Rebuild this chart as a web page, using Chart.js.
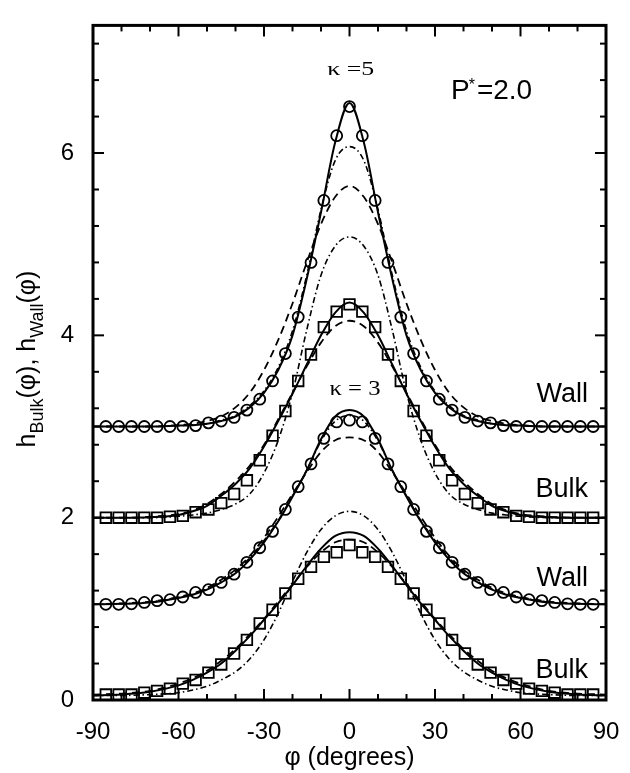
<!DOCTYPE html>
<html><head><meta charset="utf-8">
<script src="https://cdn.jsdelivr.net/npm/chart.js@4"></script>
<style>html,body{margin:0;padding:0;background:#fff}</style>
</head><body>
<canvas id="c" width="630" height="773"></canvas>
<script>
// ---- tick values ----
const xTickLabels = [-90, -60, -30, 0, 30, 60, 90];
const yTickLabels = [0, 2, 4, 6];
const xMinorTicks = [-80, -70, -50, -40, -20, -10, 10, 20, 40, 50, 70, 80];
const yMinorTicks = [0.4, 0.8, 1.2, 1.6, 2.4, 2.8, 3.2, 3.6, 4.4, 4.8, 5.2, 5.6, 6.4, 6.8, 7.2];

// ---- simulation points (symbols) ----
const phiData = [-85.5,-81,-76.5,-72,-67.5,-63,-58.5,-54,-49.5,-45,-40.5,-36,-31.5,-27,-22.5,-18,-13.5,-9,-4.5,0,4.5,9,13.5,18,22.5,27,31.5,36,40.5,45,49.5,54,58.5,63,67.5,72,76.5,81,85.5];
const wallK5Data = [3.00,3.00,3.00,3.00,3.00,3.00,3.00,3.01,3.04,3.06,3.10,3.18,3.30,3.50,3.80,4.20,4.80,5.48,6.19,6.51,6.19,5.48,4.80,4.20,3.80,3.50,3.30,3.18,3.10,3.06,3.04,3.01,3.00,3.00,3.00,3.00,3.00,3.00,3.00];
const bulkK5Data = [2.00,2.00,2.00,2.00,2.00,2.01,2.02,2.06,2.09,2.16,2.26,2.41,2.63,2.90,3.17,3.50,3.79,4.09,4.26,4.34,4.26,4.09,3.79,3.50,3.17,2.90,2.63,2.41,2.26,2.16,2.09,2.06,2.02,2.01,2.00,2.00,2.00,2.00,2.00];
const wallK3Data = [1.05,1.05,1.055,1.07,1.09,1.10,1.13,1.18,1.21,1.29,1.38,1.51,1.67,1.85,2.09,2.34,2.59,2.87,3.05,3.07,3.05,2.87,2.59,2.34,2.09,1.85,1.67,1.51,1.38,1.29,1.21,1.18,1.13,1.10,1.09,1.07,1.055,1.05,1.05];
const bulkK3Data = [0.06,0.06,0.06,0.08,0.10,0.125,0.18,0.22,0.30,0.39,0.51,0.66,0.84,0.99,1.17,1.33,1.46,1.57,1.62,1.70,1.62,1.57,1.46,1.33,1.17,0.99,0.84,0.66,0.51,0.39,0.30,0.22,0.18,0.125,0.10,0.08,0.06,0.06,0.06];

// ---- theory curves ----
const phiCurve = [-90,-80,-70,-60,-55,-50,-45,-40,-35,-30,-25,-20,-15,-10,-5,0,5,10,15,20,25,30,35,40,45,50,55,60,70,80,90];
const wallK5Solid   = [3.00,3.00,3.00,3.01,3.015,3.03,3.06,3.11,3.21,3.37,3.62,4.00,4.62,5.35,6.12,6.55,6.12,5.35,4.62,4.00,3.62,3.37,3.21,3.11,3.06,3.03,3.015,3.01,3.00,3.00,3.00];
const wallK5DashDot = [3.00,3.00,3.00,3.01,3.02,3.03,3.07,3.12,3.23,3.39,3.65,4.05,4.66,5.38,5.92,6.07,5.92,5.38,4.66,4.05,3.65,3.39,3.23,3.12,3.07,3.03,3.02,3.01,3.00,3.00,3.00];
const wallK5Dashed  = [3.00,3.00,3.00,3.015,3.03,3.06,3.11,3.21,3.37,3.62,3.95,4.35,4.80,5.22,5.52,5.64,5.52,5.22,4.80,4.35,3.95,3.62,3.37,3.21,3.11,3.06,3.03,3.015,3.00,3.00,3.00];
const bulkK5Solid   = [2.00,2.00,2.005,2.03,2.07,2.13,2.24,2.37,2.54,2.78,3.06,3.36,3.68,4.00,4.25,4.36,4.25,4.00,3.68,3.36,3.06,2.78,2.54,2.37,2.24,2.13,2.07,2.03,2.005,2.00,2.00];
const bulkK5DashDot = [2.00,2.00,2.00,2.015,2.03,2.05,2.09,2.15,2.26,2.49,2.85,3.37,4.06,4.66,4.98,5.08,4.98,4.66,4.06,3.37,2.85,2.49,2.26,2.15,2.09,2.05,2.03,2.015,2.00,2.00,2.00];
const bulkK5Dashed  = [2.00,2.00,2.01,2.04,2.08,2.15,2.26,2.40,2.57,2.80,3.08,3.37,3.66,3.92,4.10,4.16,4.10,3.92,3.66,3.37,3.08,2.80,2.57,2.40,2.26,2.15,2.08,2.04,2.01,2.00,2.00];
const wallK3Solid   = [1.05,1.055,1.07,1.12,1.155,1.21,1.29,1.39,1.54,1.73,1.96,2.23,2.52,2.86,3.11,3.18,3.11,2.86,2.52,2.23,1.96,1.73,1.54,1.39,1.29,1.21,1.155,1.12,1.07,1.055,1.05];
const wallK3Dashed  = [1.05,1.06,1.08,1.13,1.17,1.23,1.32,1.43,1.58,1.78,2.01,2.26,2.50,2.72,2.85,2.88,2.85,2.72,2.50,2.26,2.01,1.78,1.58,1.43,1.32,1.23,1.17,1.13,1.08,1.06,1.05];
const wallK3DashDot = [1.05,1.055,1.075,1.125,1.16,1.22,1.30,1.41,1.56,1.75,1.97,2.24,2.52,2.84,3.06,3.12,3.06,2.84,2.52,2.24,1.97,1.75,1.56,1.41,1.30,1.22,1.16,1.125,1.075,1.055,1.05];
const bulkK3Solid   = [0.05,0.06,0.09,0.16,0.22,0.30,0.40,0.54,0.70,0.88,1.06,1.26,1.47,1.66,1.80,1.84,1.80,1.66,1.47,1.26,1.06,0.88,0.70,0.54,0.40,0.30,0.22,0.16,0.09,0.06,0.05];
const bulkK3DashDot = [0.05,0.05,0.06,0.08,0.11,0.15,0.22,0.31,0.45,0.66,0.95,1.30,1.62,1.87,2.02,2.07,2.02,1.87,1.62,1.30,0.95,0.66,0.45,0.31,0.22,0.15,0.11,0.08,0.06,0.05,0.05];
const bulkK3Dashed  = [0.06,0.07,0.10,0.18,0.24,0.32,0.43,0.56,0.72,0.89,1.08,1.27,1.46,1.62,1.73,1.76,1.73,1.62,1.46,1.27,1.08,0.89,0.72,0.56,0.43,0.32,0.24,0.18,0.10,0.07,0.06];

// ---- build datasets ----
const SANS = '"Liberation Sans", Arial, Helvetica, sans-serif';
const SERIF = '"Liberation Serif", "Times New Roman", serif';
const DASH = [8, 5];
const DASHDOT = [6, 3, 1.5, 3];
const pts = (xs, ys) => xs.map((x, i) => ({ x: x, y: ys[i] }));
function lineDs(ys, dash, w) {
  return { data: pts(phiCurve, ys), showLine: true, borderColor: '#000', borderWidth: w,
    borderDash: dash, pointRadius: 0, pointHoverRadius: 0, cubicInterpolationMode: 'monotone', fill: false };
}
function markDs(ys, style, r) {
  return { data: pts(phiData, ys), showLine: false, pointStyle: style, pointRadius: r, pointHoverRadius: r,
    borderColor: '#000', backgroundColor: 'rgba(0,0,0,0)', pointBorderColor: '#000',
    pointBackgroundColor: 'rgba(0,0,0,0)', pointBorderWidth: 1.8 };
}
const datasets = [
  lineDs(wallK5Solid, [], 2), lineDs(wallK5DashDot, DASHDOT, 1.6), lineDs(wallK5Dashed, DASH, 1.8),
  lineDs(bulkK5Solid, [], 2), lineDs(bulkK5DashDot, DASHDOT, 1.6), lineDs(bulkK5Dashed, DASH, 1.8),
  lineDs(wallK3Solid, [], 2), lineDs(wallK3DashDot, DASHDOT, 1.6), lineDs(wallK3Dashed, DASH, 1.8),
  lineDs(bulkK3Solid, [], 2), lineDs(bulkK3DashDot, DASHDOT, 1.6), lineDs(bulkK3Dashed, DASH, 1.8),
  markDs(wallK5Data, 'circle', 5.5), markDs(bulkK5Data, 'rect', 7.5),
  markDs(wallK3Data, 'circle', 5.5), markDs(bulkK3Data, 'rect', 7.5)
];

function stretchText(ctx, text, cx, base, font, targetW) {
  ctx.font = font;
  const w = ctx.measureText(text).width;
  ctx.save();
  ctx.translate(cx, base);
  ctx.scale(targetW / w, 1);
  ctx.textAlign = 'center';
  ctx.textBaseline = 'alphabetic';
  ctx.fillText(text, 0, 0);
  ctx.restore();
}

const decor = {
  id: 'decor',
  afterDraw(chart) {
    const ctx = chart.ctx, a = chart.chartArea, xs = chart.scales.x, ys = chart.scales.y;
    ctx.save();
    ctx.strokeStyle = '#000';
    ctx.fillStyle = '#000';
    ctx.lineWidth = 2;
    const seg = (x1, y1, x2, y2) => { ctx.beginPath(); ctx.moveTo(x1, y1); ctx.lineTo(x2, y2); ctx.stroke(); };
    xTickLabels.forEach(v => { const p = xs.getPixelForValue(v); seg(p, a.bottom, p, a.bottom - 11); seg(p, a.top, p, a.top + 11); });
    xMinorTicks.forEach(v => { const p = xs.getPixelForValue(v); seg(p, a.bottom, p, a.bottom - 6); seg(p, a.top, p, a.top + 6); });
    yTickLabels.forEach(v => { const p = ys.getPixelForValue(v); seg(a.left, p, a.left + 11, p); seg(a.right, p, a.right - 11, p); });
    yMinorTicks.forEach(v => { const p = ys.getPixelForValue(v); seg(a.left, p, a.left + 6, p); seg(a.right, p, a.right - 6, p); });
    ctx.lineWidth = 3;
    ctx.strokeRect(a.left, a.top, a.right - a.left, a.bottom - a.top);

    // x title
    ctx.font = '25px ' + SANS;
    ctx.textAlign = 'center';
    ctx.textBaseline = 'alphabetic';
    ctx.fillText('\u03c6 (degrees)', (a.left + a.right) / 2, 765);

    // y title with subscripts
    const parts = [['h', 25, 0], ['Bulk', 18, 8], ['(\u03c6), h', 25, 0], ['Wall', 18, 8], ['(\u03c6)', 25, 0]];
    let total = 0;
    parts.forEach(p => { ctx.font = p[1] + 'px ' + SANS; total += ctx.measureText(p[0]).width; });
    ctx.save();
    ctx.translate(35, 359);
    ctx.rotate(-Math.PI / 2);
    ctx.textAlign = 'left';
    let cx = -total / 2;
    parts.forEach(p => { ctx.font = p[1] + 'px ' + SANS; ctx.fillText(p[0], cx, p[2]); cx += ctx.measureText(p[0]).width; });
    ctx.restore();

    // kappa labels
    stretchText(ctx, '\u03ba =5', 350.7, 75, '19px ' + SERIF, 47);
    stretchText(ctx, '\u03ba = 3', 355, 395, '21px ' + SERIF, 51);

    // P* label
    ctx.textAlign = 'left';
    ctx.font = '28px ' + SANS;
    ctx.fillText('P', 451, 99);
    let px = 451 + ctx.measureText('P').width;
    ctx.font = '16px ' + SANS;
    ctx.fillText('*', px - 1, 90);
    px += ctx.measureText('*').width + 1;
    ctx.font = '28px ' + SANS;
    ctx.fillText('=2.0', px, 99);

    // curve labels
    ctx.textAlign = 'right';
    ctx.font = '27px ' + SANS;
    ctx.fillText('Wall', 588, 402);
    ctx.fillText('Bulk', 588, 497);
    ctx.fillText('Wall', 588, 586);
    ctx.fillText('Bulk', 588, 678);
    ctx.restore();
  }
};

new Chart(document.getElementById('c'), {
  type: 'scatter',
  data: { datasets: datasets },
  options: {
    responsive: false,
    animation: false,
    layout: { padding: { left: 0, right: 24, top: 10, bottom: 0 } },
    plugins: { legend: { display: false }, tooltip: { enabled: false } },
    scales: {
      x: {
        type: 'linear', min: -90, max: 90,
        afterBuildTicks: s => { s.ticks = xTickLabels.map(v => ({ value: v })); },
        afterFit: s => { s.height = 73; },
        grid: { display: false }, border: { display: false },
        ticks: { color: '#000', font: { family: SANS, size: 24 }, padding: 10, maxRotation: 0, autoSkip: false }
      },
      y: {
        type: 'linear', min: 0, max: 7.4,
        afterBuildTicks: s => { s.ticks = yTickLabels.map(v => ({ value: v })); },
        afterFit: s => { s.width = 93; },
        grid: { display: false }, border: { display: false },
        ticks: { color: '#000', font: { family: SANS, size: 24 }, padding: 11, autoSkip: false }
      }
    }
  },
  plugins: [decor]
});
</script>
</body></html>
